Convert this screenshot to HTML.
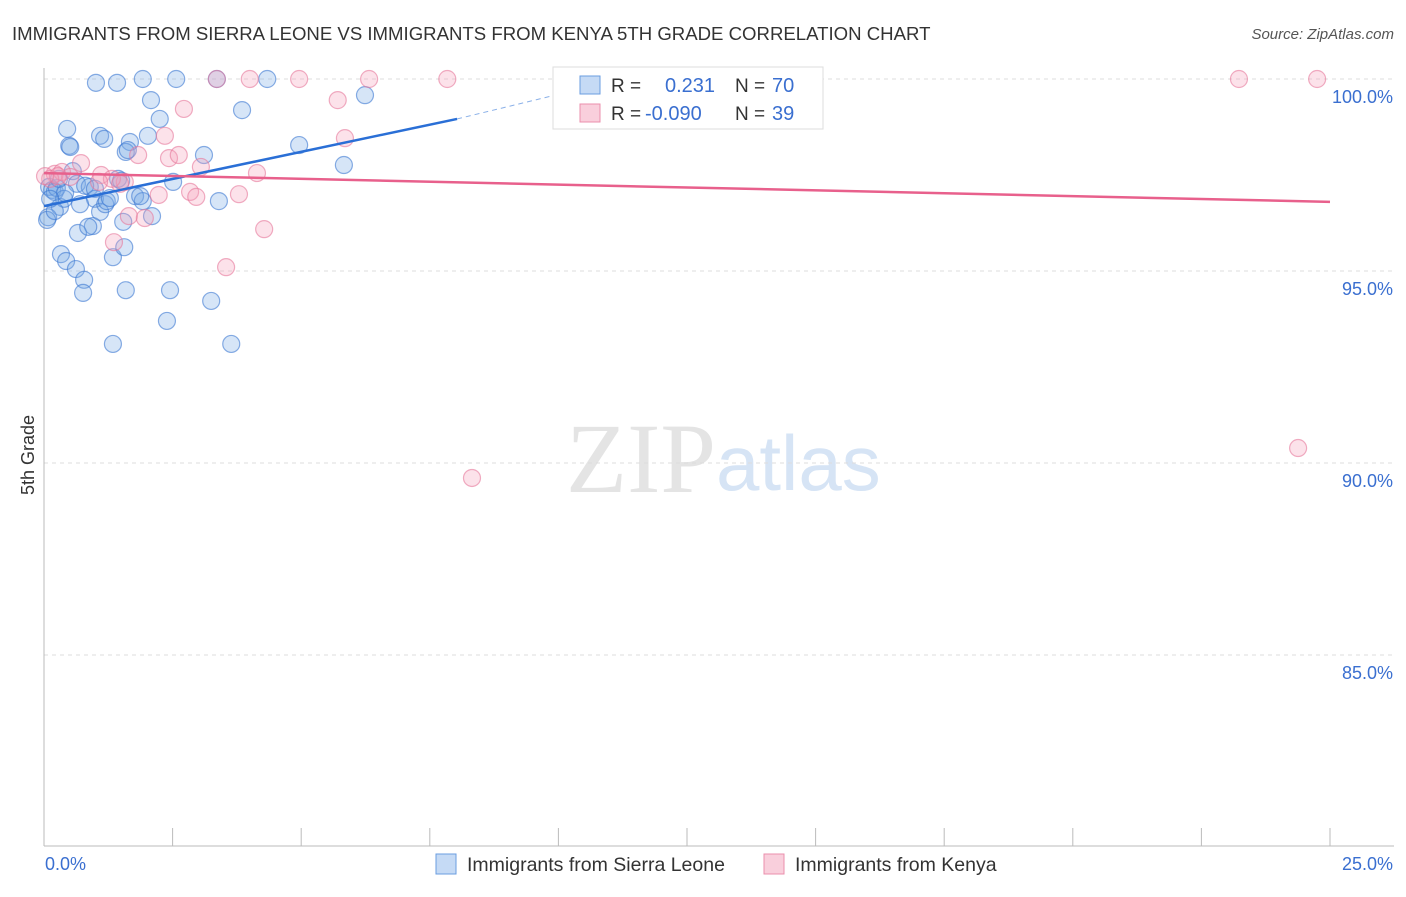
<!DOCTYPE html>
<html><head><meta charset="utf-8"><style>
body{margin:0;background:#fff;font-family:"Liberation Sans",sans-serif}
</style></head><body>
<svg width="1406" height="892" xmlns="http://www.w3.org/2000/svg" style="font-family:'Liberation Sans',sans-serif">
<text x="12" y="40" font-size="18.6" fill="#333">IMMIGRANTS FROM SIERRA LEONE VS IMMIGRANTS FROM KENYA 5TH GRADE CORRELATION CHART</text>
<text x="1394" y="39" font-size="15" fill="#555" text-anchor="end" font-style="italic">Source: ZipAtlas.com</text>
<text x="716" y="492" font-size="100" fill="#e4e4e4" text-anchor="end" font-family="Liberation Serif">ZIP</text>
<text x="716" y="490" font-size="78" fill="#d6e4f5">atlas</text>
<g id="grid"></g><g id="axes"></g><g id="pts"></g><g id="trend"></g>
<text x="34" y="455" font-size="18" fill="#333" transform="rotate(-90 34 455)" text-anchor="middle">5th Grade</text>
<g>
<rect x="553" y="67" width="270" height="62" fill="#fff" stroke="#ddd"/>
<rect x="580" y="76" width="20" height="18" fill="#c5daf5" stroke="#6a9de0"/>
<rect x="580" y="104" width="20" height="18" fill="#f9cfdc" stroke="#eb8fac"/>
<text x="611" y="92" font-size="19" fill="#333">R =</text><text x="665" y="92" font-size="20" fill="#3a6fd0">0.231</text>
<text x="735" y="92" font-size="19" fill="#333">N =</text><text x="772" y="92" font-size="20" fill="#3a6fd0">70</text>
<text x="611" y="120" font-size="19" fill="#333">R =</text><text x="645" y="120" font-size="20" fill="#3a6fd0">-0.090</text>
<text x="735" y="120" font-size="19" fill="#333">N =</text><text x="772" y="120" font-size="20" fill="#3a6fd0">39</text>
</g>
<g>
<rect x="436" y="854" width="20" height="20" fill="#c5daf5" stroke="#6a9de0"/>
<text x="467" y="871" font-size="19.5" fill="#333">Immigrants from Sierra Leone</text>
<rect x="764" y="854" width="20" height="20" fill="#f9cfdc" stroke="#eb8fac"/>
<text x="795" y="871" font-size="19.5" fill="#333">Immigrants from Kenya</text>
</g>
</svg>
<script>
const blueX=[1.01,1.42,1.92,2.57,3.36,4.34,6.24,2.08,3.85,2.25,0.45,0.49,0.51,1.09,1.17,1.67,2.02,1.59,1.63,4.96,5.83,3.11,2.51,3.4,0.1,0.16,0.21,0.25,0.31,0.08,0.06,0.56,0.64,0.89,0.99,1.09,1.19,1.22,1.44,1.77,1.92,2.1,1.54,0.95,0.66,0.33,0.43,0.62,0.78,0.76,1.34,1.56,1.59,2.45,2.39,3.25,1.34,3.64,0.39,0.86,1.5,0.8,1.28,0.41,0.21,0.7,0.12,0.29,0.99,1.87];
const blueY=[99.9,99.9,100,100,100,100,99.58,99.45,99.19,98.96,98.7,98.26,98.23,98.52,98.44,98.36,98.52,98.1,98.15,98.28,97.76,98.02,97.32,96.82,97.19,97.11,97.06,97.16,96.67,96.4,96.33,97.6,97.27,97.19,96.88,96.54,96.74,96.82,97.4,96.95,96.82,96.43,96.28,96.17,95.99,95.44,95.26,95.05,94.77,94.43,95.36,95.62,94.5,94.5,93.7,94.22,93.1,93.1,96.88,96.15,97.35,97.22,96.9,97.03,96.56,96.74,96.88,97.4,97.14,96.95];
const pinkX=[3.36,4.0,4.96,6.32,7.84,23.23,24.75,2.72,5.71,5.85,2.35,1.83,2.43,2.62,3.05,4.14,3.79,2.84,2.96,2.23,1.65,1.96,1.36,3.54,4.28,8.32,24.38,0.72,1.11,1.57,0.21,0.35,0.12,0.51,1.32,1.07,0.27,0.02,1.48];
const pinkY=[100,100,100,100,100,100,100,99.22,99.45,98.46,98.52,98.02,97.94,98.02,97.71,97.55,97.0,97.06,96.93,96.98,96.43,96.38,95.75,95.1,96.09,89.61,90.39,97.81,97.5,97.32,97.53,97.58,97.4,97.45,97.4,97.32,97.47,97.47,97.27];
const xTicks=[0,2.5,5,7.5,10,12.5,15,17.5,20,22.5,25];
const yTicks=[100,95,90,85];
const yTickLabels=["100.0%","95.0%","90.0%","85.0%"];
const blueTrend=[0,96.69,8.03,98.96];const blueDash=[8.03,98.96,10.0,99.6];
const pinkTrend=[0,97.55,25,96.8];
const X=v=>44+v/25*1286, Y=v=>79+(100-v)/5*192;
const NS="http://www.w3.org/2000/svg";
function mk(t,a,p,name,inter){const e=document.createElementNS(NS,t);for(const k in a)e.setAttribute(k,a[k]);


p.appendChild(e);return e;}
const grid=document.getElementById('grid'),axes=document.getElementById('axes'),pts=document.getElementById('pts'),tr=document.getElementById('trend');
yTicks.forEach((v,i)=>{mk('line',{x1:44,x2:1394,y1:Y(v),y2:Y(v),stroke:'#ddd','stroke-dasharray':'4 4'},grid,'y-gridline','false');
const t=mk('text',{x:1393,y:Y(v)+24,'font-size':18,fill:'#3a6fd0','text-anchor':'end'},axes,'y-tick-label','false');t.textContent=yTickLabels[i];});
mk('line',{x1:44,x2:44,y1:68,y2:846,stroke:'#bbb'},axes,'y-axis-line','false');
mk('line',{x1:44,x2:1394,y1:846,y2:846,stroke:'#bbb'},axes,'x-axis-line','false');
xTicks.forEach(v=>mk('line',{x1:X(v),x2:X(v),y1:828,y2:846,stroke:'#bbb'},axes,'x-tick','false'));
let t=mk('text',{x:45,y:870,'font-size':18,fill:'#3a6fd0'},axes,'x-min-label','false');t.textContent='0.0%';
t=mk('text',{x:1393,y:870,'font-size':18,fill:'#3a6fd0','text-anchor':'end'},axes,'x-max-label','false');t.textContent='25.0%';
blueX.forEach((x,i)=>mk('circle',{cx:X(x),cy:Y(blueY[i]),r:8.5,fill:'rgba(120,170,230,0.3)',stroke:'rgba(60,120,210,0.6)','stroke-width':1.2},pts,'sierra-leone-point','false'));
pinkX.forEach((x,i)=>mk('circle',{cx:X(x),cy:Y(pinkY[i]),r:8.5,fill:'rgba(245,160,185,0.3)',stroke:'rgba(230,120,155,0.6)','stroke-width':1.2},pts,'kenya-point','false'));
mk('line',{x1:X(blueTrend[0]),y1:Y(blueTrend[1]),x2:X(blueTrend[2]),y2:Y(blueTrend[3]),stroke:'#2a6fd6','stroke-width':2.5},tr,'sierra-leone-trendline','false');
mk('line',{x1:X(blueDash[0]),y1:Y(blueDash[1]),x2:X(blueDash[2]),y2:Y(blueDash[3]),stroke:'#8ab0e8','stroke-width':1,'stroke-dasharray':'5 4'},tr,'sierra-leone-trend-extension','false');
mk('line',{x1:X(pinkTrend[0]),y1:Y(pinkTrend[1]),x2:X(pinkTrend[2]),y2:Y(pinkTrend[3]),stroke:'#e8608c','stroke-width':2.5},tr,'kenya-trendline','false');
</script>
</body></html>
